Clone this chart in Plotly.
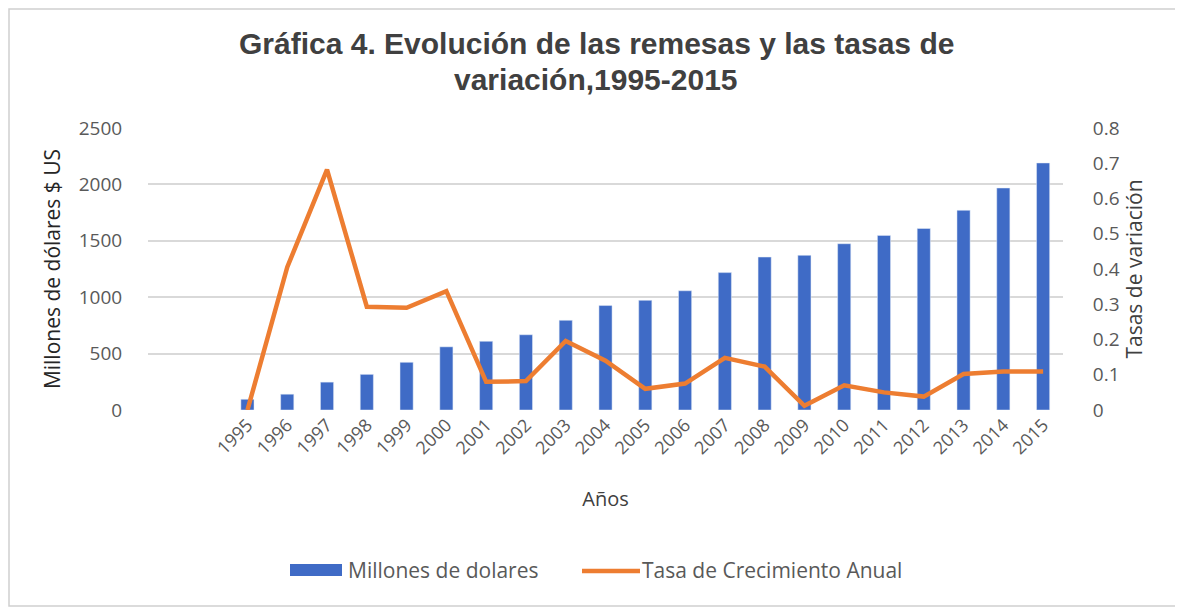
import plotly.graph_objects as go
from plotly.subplots import make_subplots

# Data
YEARS = list(range(1995, 2016))
REMESAS = [95, 140, 247, 316, 423, 560, 609, 667, 795, 926, 972, 1057,
           1218, 1356, 1371, 1474, 1548, 1609, 1770, 1968, 2190]
TASA = [0.0, 0.405, 0.682, 0.293, 0.29, 0.337, 0.08, 0.082, 0.196, 0.14,
        0.06, 0.075, 0.148, 0.123, 0.012, 0.07, 0.05, 0.038, 0.102, 0.109, 0.109]
Y_TICKS = [0, 500, 1000, 1500, 2000, 2500]
Y2_TICKS = [0, 0.1, 0.2, 0.3, 0.4, 0.5, 0.6, 0.7, 0.8]

BLUE = "#3F6BC6"
ORANGE = "#ED7D31"
TEXT_FONT = "'Open Sans', Lato, Arial, sans-serif"
TITLE_FONT = "Arial, 'Liberation Sans', sans-serif"

# page has an 8px body margin, so the figure sits 8px in from the window edge
OFF = 8
W, H = 1175, 603
L, R, T, B = 148 - OFF, 1183 - OFF - 1055, 128 - OFF, 611 - OFF - 402
pw = W - L - R
ph = H - T - B


def px(x):
    # window pixel column -> paper x
    return (x - OFF - L) / pw


def py(y):
    # window pixel row -> paper y
    return (H - B - (y - OFF)) / ph


fig = make_subplots(specs=[[{"secondary_y": True}]])

fig.add_trace(go.Bar(
    x=YEARS, y=REMESAS, name="Millones de dolares",
    marker_color=BLUE, width=0.33,
), secondary_y=False)

fig.add_trace(go.Scatter(
    x=YEARS, y=TASA, name="Tasa de Crecimiento Anual",
    mode="lines", line=dict(color=ORANGE, width=4.5),
), secondary_y=True)

# outer frame
fig.add_shape(
    type="rect", xref="paper", yref="paper",
    x0=px(OFF + 1), x1=px(1178), y0=py(606), y1=py(OFF + 1),
    line=dict(color="#d0d0d0", width=1.5), fillcolor="rgba(0,0,0,0)",
)

# hand-drawn legend (Excel style wide keys)
fig.add_shape(
    type="rect", xref="paper", yref="paper",
    x0=px(290), x1=px(342), y0=py(576), y1=py(564),
    line=dict(width=0), fillcolor=BLUE,
)
fig.add_shape(
    type="line", xref="paper", yref="paper",
    x0=px(582), x1=px(640), y0=py(571), y1=py(571),
    line=dict(color=ORANGE, width=4.5),
)
for xpos, label in [(346, "Millones de dolares"), (640, "Tasa de Crecimiento Anual")]:
    fig.add_annotation(
        text=label, xref="paper", yref="paper", x=px(xpos), y=py(570),
        xanchor="left", yanchor="middle", showarrow=False,
        font=dict(family=TEXT_FONT, size=21, color="#595959"),
    )

# two-line title
for ypos, line in [(43, "<b>Gráfica 4. Evolución de las remesas y las tasas de</b>"),
                   (79, "<b>variación,1995-2015</b>")]:
    fig.add_annotation(
        text=line, xref="paper", yref="paper", x=px(596), y=py(ypos),
        xanchor="center", yanchor="middle", showarrow=False,
        font=dict(family=TITLE_FONT, size=30, color="#404040"),
    )

fig.update_layout(
    width=W, height=H,
    margin=dict(l=L, r=R, t=T, b=B, autoexpand=False),
    plot_bgcolor="white", paper_bgcolor="white",
    font=dict(family=TEXT_FONT, color="#595959"),
    showlegend=False,
    bargap=0.67,
)

fig.update_xaxes(
    domain=[0, 1],
    range=[1992.5, 2015.5], automargin=False,
    tickvals=YEARS, ticktext=[str(y) for y in YEARS],
    tickangle=-45, tickfont=dict(size=18, color="#595959"),
    showgrid=False, zeroline=False, showline=False, ticks="",
    title=dict(text="Años", font=dict(size=20, color="#404040"), standoff=33),
)

fig.update_yaxes(
    range=[0, 2500], tickvals=Y_TICKS, automargin=False,
    tickfont=dict(size=19, color="#595959"),
    showgrid=True, gridcolor="#d9d9d9", gridwidth=1.5, zeroline=False,
    ticks="outside", ticklen=21, tickcolor="rgba(0,0,0,0)",
    title=dict(text="Millones de dólares $ US", font=dict(size=21, color="#262626"), standoff=12),
    secondary_y=False,
)

fig.update_yaxes(
    range=[0, 0.8], tickvals=Y2_TICKS, ticktext=[f"{v:g}" for v in Y2_TICKS],
    automargin=False,
    tickfont=dict(size=19, color="#595959"),
    showgrid=False, zeroline=False,
    ticks="outside", ticklen=25, tickcolor="rgba(0,0,0,0)",
    title=dict(text="Tasas de variación", font=dict(size=21, color="#404040"), standoff=6),
    secondary_y=True,
)

fig.write_html("out.html")
